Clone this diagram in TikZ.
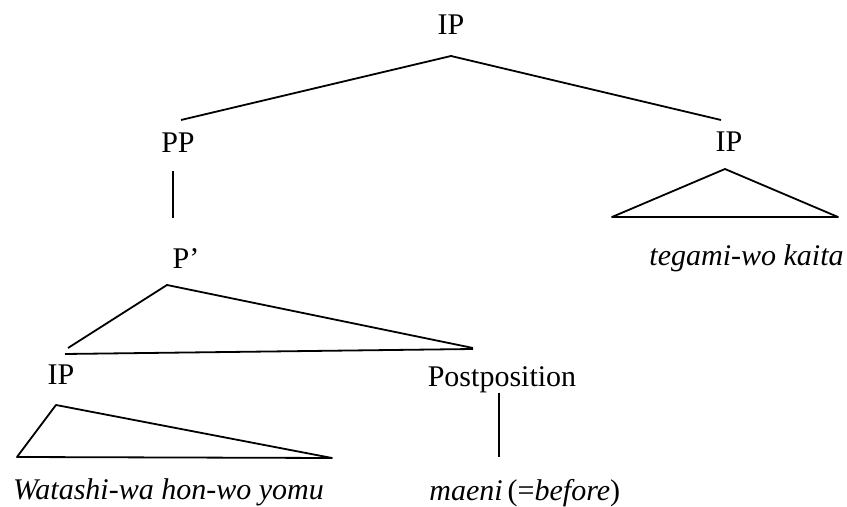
\documentclass[tikz,border=0pt]{standalone}
\usepackage{fontspec}
\setmainfont{Liberation Serif}
\usepackage{tikz}
\usetikzlibrary{calc}
\tikzset{
  catlab/.style ={anchor=base, inner sep=0pt, font=\fontsize{15}{18}\selectfont},
  wordlab/.style={anchor=base, inner sep=0pt, font=\fontsize{15}{18}\selectfont\itshape},
  branch/.style ={line width=0.9pt, line join=miter},
}

\begin{document}
\begin{tikzpicture}[x=0.5pt, y=-0.5pt,
  roof/.style={branch, line join=round}
]
\useasboundingbox (0,0) rectangle (847,507);

%% Category labels
\node[catlab] (top)  at (451,35)  {IP};
\node[catlab] (pp)   at (178,153) {PP};
\node[catlab] (ipr)  at (729,152) {IP};
\node[catlab] (pbar) at (186,269) {P’};
\node[catlab] (ipl)  at (61,385)  {IP};
\node[catlab] (post) at (502,387) {Postposition};

%% Terminal strings
\node[wordlab] (wat) at (168.5,500) {Watashi-wa hon-wo yomu};
\node[catlab, anchor=base west] (mae) at (429,501)
  {\textit{maeni}\,(=\textit{before})};
\node[wordlab] (teg) at (746.5,266) {tegami-wo kaita};

%% Upper branches
\draw[branch] ($(pp.base)+(3,-33)$) -- ($(top.base)+(0,21)$)
              -- ($(ipr.base)+(-8,-32)$);
\draw[branch] ($(pp.base)+(-5,18)$) -- ($(pbar.base)+(-13,-51)$);

%% P' branches and bar
\draw[branch] ($(ipl.base)+(7,-37)$) -- ($(pbar.base)+(-19,16)$)
              -- ($(post.base)+(-29,-39)$);
\draw[branch] ($(ipl.base)+(4,-31)$) -- ($(post.base)+(-29,-38)$);
\draw[branch] ($(post.base)+(-3,6)$) -- ($(mae.base west)+(70,-44)$);

%% Roofs over unanalysed phrases
\draw[roof] ($(ipl.base)+(-5,20)$) -- ($(wat.base)+(-151.5,-43)$)
            -- ($(wat.base)+(163.5,-42)$) -- cycle;
\draw[roof] ($(ipr.base)+(-4,17)$) -- ($(teg.base)+(-134.5,-49)$)
            -- ($(teg.base)+(91.5,-49)$) -- cycle;

\end{tikzpicture}
\end{document}
